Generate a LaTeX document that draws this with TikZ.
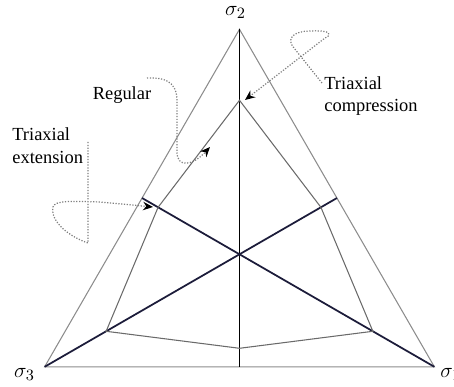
\documentclass[tikz,border=0pt]{standalone}
\usepackage{fontspec}
\setmainfont{Liberation Serif}
\newfontfamily\lblfont{Liberation Serif}
\usetikzlibrary{arrows.meta,calc}
\definecolor{cEdge}{HTML}{8C8C8C}
\definecolor{cHex}{HTML}{6A6A6A}
\definecolor{cMed}{HTML}{1C1C3A}
\tikzset{
  >={Stealth[length=2mm, width=1.7mm, color=black]},
  outer/.style={draw=cEdge, line width=0.6pt},
  hexline/.style={draw=cHex, line width=0.6pt},
  median/.style={draw=cMed, line width=1pt},
  axisline/.style={draw=black, line width=0.6pt},
  lbl/.style={font=\lblfont\fontsize{10.5}{13}\selectfont, align=left, inner sep=0pt},
  sig/.style={font=\fontsize{13}{15}\selectfont, inner sep=0pt},
  pointer/.style={->, draw=gray, line width=0.7pt, dash pattern=on 0.7pt off 0.9pt},
}

\begin{document}
\begin{tikzpicture}
    \useasboundingbox (0,0) rectangle (9.08,7.74);
    % centre of the deviatoric plane
    \coordinate (O) at (4.79,2.654);
    % corners of the outer triangle
    \coordinate (s2) at ($(O)+(90:4.5)$);
    \coordinate (s3) at ($(O)+(210:4.5)$);
    \coordinate (s1) at ($(O)+(330:4.5)$);
    % feet of the medians on the opposite edges
    \coordinate (m2) at ($(O)+(270:2.25)$);
    \coordinate (m3) at ($(O)+(30:2.25)$);
    \coordinate (m1) at ($(O)+(150:2.25)$);
    % hexagon: compression and extension corners
    \coordinate (c2) at ($(O)+(90:3.08)$);
    \coordinate (c3) at ($(O)+(210:3.08)$);
    \coordinate (c1) at ($(O)+(330:3.08)$);
    \coordinate (e1) at ($(O)+(150:1.88)$);
    \coordinate (e2) at ($(O)+(270:1.88)$);
    \coordinate (e3) at ($(O)+(30:1.88)$);

    \draw[outer] (s3) -- (s1) -- (s2) -- cycle;
    \draw[axisline] (s2) -- (m2);
    \draw[median] (s3) -- (m3);
    \draw[median] (s1) -- (m1);
    \draw[hexline] (c2) -- (e1) -- (c3) -- (e2) -- (c1) -- (e3) -- cycle;

    \node[sig] (lab2) at (4.71,7.49) {$\sigma_2$};
    \node[sig] (lab3) at (0.49,0.25) {$\sigma_3$};
    \node[sig, anchor=west] (lab1) at (8.8,0.25) {$\sigma_1$};

    \node[lbl] (reg) at (2.44,5.84) {Regular};
    \node[lbl, anchor=west] (ext) at (0.24,4.82) {Triaxial\\extension};
    \node[lbl, anchor=west] (comp) at (6.48,5.82) {Triaxial\\compression};

    \coordinate (regA) at (2.94,6.18);
    \coordinate (regB) at (4.2,4.8);
    \coordinate (extA) at (1.76,4.90);
    \coordinate (extB) at (3.06,3.60);
    \coordinate (compA) at (6.44,6.08);
    \coordinate (compB) at (4.90,5.74);

    \draw[pointer] (regA) .. controls (3.45,6.2) and (3.56,6.0) .. (3.54,5.6)
        -- (3.54,4.7) .. controls (3.54,4.38) and (3.85,4.42) .. (regB);
    \draw[pointer] (extA) -- (1.76,2.88) .. controls (1.4,3.0) and (1.0,3.3) .. (1.06,3.6)
        .. controls (1.1,3.73) and (1.4,3.72) .. (2.0,3.7) -- (extB);
    \draw[pointer] (compA) -- (5.88,6.78) .. controls (5.7,6.98) and (5.9,7.12) .. (6.2,7.12)
        .. controls (6.62,7.14) and (6.66,7.05) .. (6.5,6.98) -- (compB);
\end{tikzpicture}
\end{document}
